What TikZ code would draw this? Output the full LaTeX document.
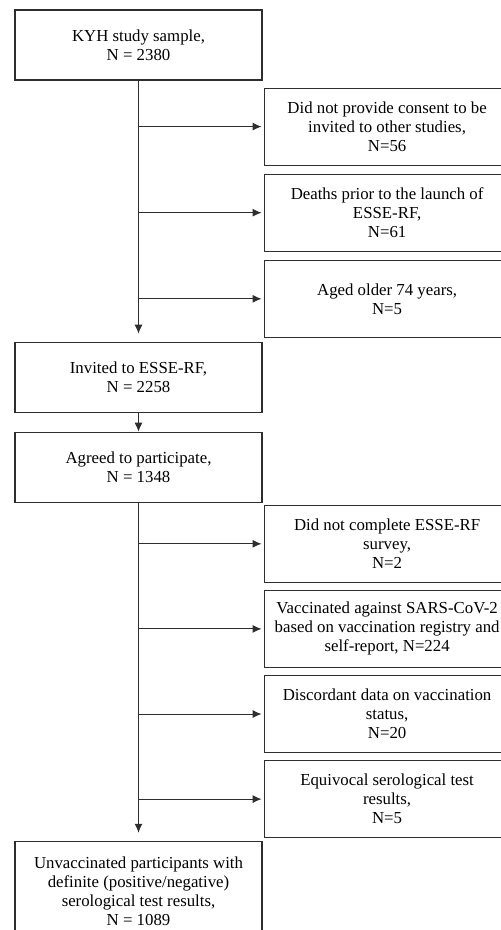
\documentclass[tikz,border=0pt]{standalone}
\usepackage{fontspec}
\setmainfont{Liberation Serif}
\usetikzlibrary{arrows.meta,positioning}
\definecolor{ink}{HTML}{2E2E2E}
\tikzset{
  >={Latex[length=9pt,width=8pt]},
  every node/.style={font=\fontsize{16.8}{19}\selectfont,text=black},
  box/.style={draw=ink,line width=1.1pt,minimum height=70pt,minimum width=247pt,align=center,inner sep=4pt},
  exclbox/.style={box,minimum height=77pt,minimum width=246pt},
  arrow/.style={->,line width=0.9pt,draw=ink},
}

\begin{document}
\begin{tikzpicture}[x=1pt,y=-1pt]
\useasboundingbox (0,0) rectangle (501,930);

\node[box] (kyh) at (138.5,45) {KYH study sample,\\N = 2380};

% exclusions before invitation
\node[exclbox,below right=7pt and 1pt of kyh.south east] (consent)
{Did not provide consent to be\\invited to other studies,\\N=56};
\node[exclbox,below=8pt of consent] (deaths)
{Deaths prior to the launch of\\ESSE-RF,\\N=61};
\node[exclbox,below=8pt of deaths] (aged)
{Aged older 74 years,\\N=5};

\node[box,below=261pt of kyh] (invited) {Invited to ESSE-RF,\\N = 2258};
\node[box,below=19pt of invited] (agreed) {Agreed to participate,\\N = 1348};

\draw[arrow,shorten >=8pt] (kyh.south) -- (invited.north);
\draw[arrow,shorten >=2pt] (kyh.south |- consent.west) -- (consent.west);
\draw[arrow,shorten >=2pt] (kyh.south |- deaths.west) -- (deaths.west);
\draw[arrow,shorten >=2pt] (kyh.south |- aged.west) -- (aged.west);
\draw[arrow] (invited) -- (agreed);

% exclusions after agreement
\node[exclbox,below right=2pt and 1pt of agreed.south east] (survey)
{Did not complete ESSE-RF\\survey,\\N=2};
\node[exclbox,below=7pt of survey] (vacc)
{Vaccinated against SARS-CoV-2\\based on vaccination registry and\\self-report, N=224};
\node[exclbox,below=7pt of vacc] (discord)
{Discordant data on vaccination\\status,\\N=20};
\node[exclbox,below=7pt of discord] (equiv)
{Equivocal serological test\\results,\\N=5};

\node[box,minimum height=100pt,below=338pt of agreed] (final)
{Unvaccinated participants with\\definite (positive/negative)\\serological test results,\\N = 1089};

\draw[arrow,shorten >=8pt] (agreed.south) -- (final.north);
\draw[arrow,shorten >=2pt] (agreed.south |- survey.west) -- (survey.west);
\draw[arrow,shorten >=2pt] (agreed.south |- vacc.west) -- (vacc.west);
\draw[arrow,shorten >=2pt] (agreed.south |- discord.west) -- (discord.west);
\draw[arrow,shorten >=2pt] (agreed.south |- equiv.west) -- (equiv.west);

\end{tikzpicture}
\end{document}
